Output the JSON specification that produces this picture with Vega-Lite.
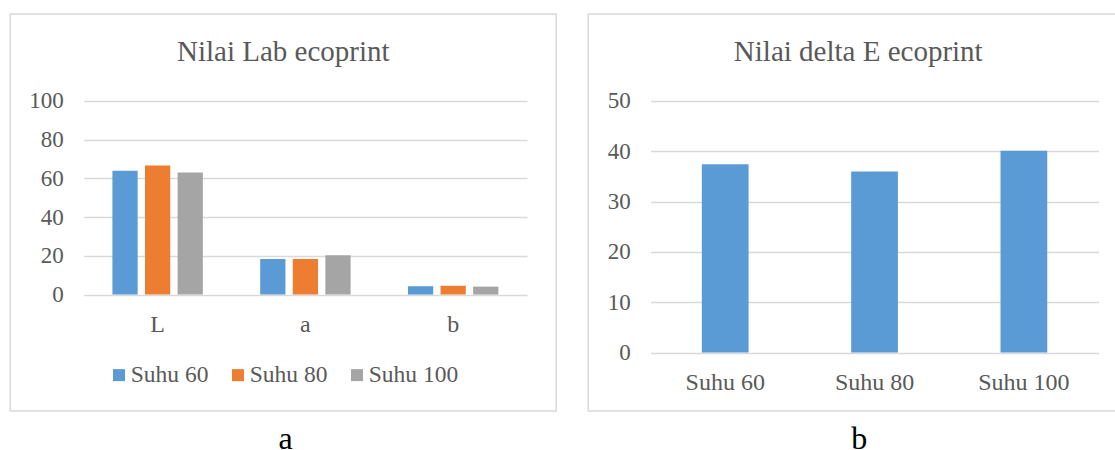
{
  "$schema": "https://vega.github.io/schema/vega-lite/v6.json",
  "background": "white",
  "padding": {"left": 9.25, "top": 13, "right": -2, "bottom": -5},
  "spacing": 32,
  "bounds": "flush",
  "config": {
    "font": "Liberation Serif",
    "view": {"stroke": "#d9d9d9", "strokeWidth": 1.5},
    "axis": {"labelFont": "Liberation Serif", "titleFont": "Liberation Serif", "labelColor": "#595959", "gridColor": "#d9d9d9", "gridWidth": 1.5},
    "legend": {"labelFont": "Liberation Serif"},
    "style": {"guide-label": {"font": "Liberation Serif"}, "guide-title": {"font": "Liberation Serif"}, "group-title": {"font": "Liberation Serif"}}
  },
  "hconcat": [
    {
      "width": 546,
      "height": 397,
      "title": {"text": "Nilai Lab ecoprint", "offset": -76, "baseline": "alphabetic", "frame": "group", "anchor": "middle", "fontSize": 29, "color": "#595959", "font": "Liberation Serif", "fontWeight": "normal"},
      "data": {"values": [
        {"komponen": "L", "suhu": "Suhu 60", "nilai": 64.0},
        {"komponen": "L", "suhu": "Suhu 80", "nilai": 66.6},
        {"komponen": "L", "suhu": "Suhu 100", "nilai": 63.0},
        {"komponen": "a", "suhu": "Suhu 60", "nilai": 18.4},
        {"komponen": "a", "suhu": "Suhu 80", "nilai": 18.4},
        {"komponen": "a", "suhu": "Suhu 100", "nilai": 20.3},
        {"komponen": "b", "suhu": "Suhu 60", "nilai": 4.3},
        {"komponen": "b", "suhu": "Suhu 80", "nilai": 4.6},
        {"komponen": "b", "suhu": "Suhu 100", "nilai": 4.1}
      ]},
      "mark": {"type": "bar"},
      "encoding": {
        "x": {"field": "komponen", "type": "nominal", "sort": ["L", "a", "b"],
          "scale": {"range": [73.5, 516.8], "paddingInner": 0.388, "paddingOuter": 0.194},
          "axis": {"labelAngle": 0, "domain": false, "ticks": false, "tickSize": 0, "labelPadding": 0, "offset": -79.05, "labelBaseline": "alphabetic", "labelFont": "Liberation Serif", "labelFontSize": 24, "labelColor": "#595959", "grid": false,
            "title": "a", "titleX": 274.8, "titleY": 116.3, "titleFont": "Liberation Serif", "titleFontSize": 32, "titleColor": "black", "titleFontWeight": "normal", "titleBaseline": "alphabetic", "titleAlign": "center", "titleAngle": 0}},
        "xOffset": {"field": "suhu", "type": "nominal", "sort": ["Suhu 60", "Suhu 80", "Suhu 100"], "scale": {"paddingInner": 0.225, "paddingOuter": 0}},
        "y": {"field": "nilai", "type": "quantitative",
          "scale": {"domain": [0, 100], "range": [280.55, 86.95], "nice": false},
          "axis": {"values": [0, 20, 40, 60, 80, 100], "domain": false, "ticks": false, "tickSize": 0, "offset": -60, "labelPadding": 7, "labelFont": "Liberation Serif", "labelFontSize": 23, "labelColor": "#595959", "title": null}},
        "color": {"field": "suhu", "type": "nominal", "sort": ["Suhu 60", "Suhu 80", "Suhu 100"],
          "scale": {"domain": ["Suhu 60", "Suhu 80", "Suhu 100"], "range": ["#5B9BD5", "#ED7D31", "#A5A5A5"]},
          "legend": {"orient": "none", "legendX": 97, "legendY": 349, "direction": "horizontal", "title": null, "symbolType": "square", "symbolSize": 144, "symbolStrokeWidth": 0, "labelFont": "Liberation Serif", "labelFontSize": 23.5, "labelColor": "#595959", "labelOffset": 0, "columnPadding": 17, "padding": 0}}
      }
    },
    {
      "width": 528,
      "height": 397,
      "title": {"text": "Nilai delta E ecoprint", "offset": -76, "dx": 6, "baseline": "alphabetic", "frame": "group", "anchor": "middle", "fontSize": 29, "color": "#595959", "font": "Liberation Serif", "fontWeight": "normal"},
      "data": {"values": [
        {"suhu": "Suhu 60", "deltaE": 37.4},
        {"suhu": "Suhu 80", "deltaE": 36.0},
        {"suhu": "Suhu 100", "deltaE": 40.1}
      ]},
      "mark": {"type": "bar", "color": "#5B9BD5"},
      "encoding": {
        "x": {"field": "suhu", "type": "nominal", "sort": ["Suhu 60", "Suhu 80", "Suhu 100"],
          "scale": {"range": [62.3, 510.3], "paddingInner": 0.687, "paddingOuter": 0.3435},
          "axis": {"labelAngle": 0, "domain": false, "ticks": false, "tickSize": 0, "labelPadding": 0, "offset": -21.45, "labelBaseline": "alphabetic", "labelFont": "Liberation Serif", "labelFontSize": 24, "labelColor": "#595959", "grid": false,
            "title": "b", "titleX": 270.5, "titleY": 58.7, "titleFont": "Liberation Serif", "titleFontSize": 32, "titleColor": "black", "titleFontWeight": "normal", "titleBaseline": "alphabetic", "titleAlign": "center", "titleAngle": 0}},
        "y": {"field": "deltaE", "type": "quantitative",
          "scale": {"domain": [0, 50], "range": [338.55, 86.95], "nice": false},
          "axis": {"values": [0, 10, 20, 30, 40, 50], "domain": false, "ticks": false, "tickSize": 0, "offset": -50, "labelPadding": 8, "labelFont": "Liberation Serif", "labelFontSize": 23, "labelColor": "#595959", "title": null}}
      }
    }
  ]
}
